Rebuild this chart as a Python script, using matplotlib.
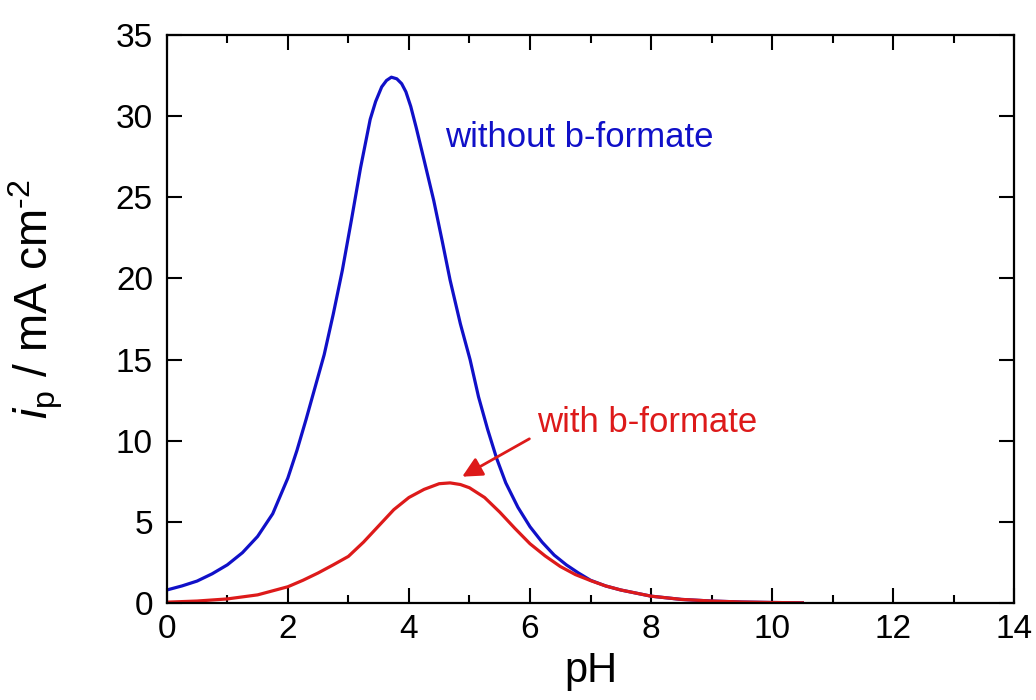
import matplotlib
matplotlib.use("Agg")
import matplotlib.pyplot as plt
from matplotlib.ticker import MultipleLocator

plt.rcParams['font.family'] = ['Liberation Sans', 'DejaVu Sans']
plt.rcParams['mathtext.fontset'] = 'custom'
plt.rcParams['mathtext.rm'] = 'Liberation Sans'
plt.rcParams['mathtext.it'] = 'Liberation Sans:italic'

ph_blue = [0.0, 0.25, 0.5, 0.75, 1.0, 1.25, 1.5, 1.75, 2.0, 2.15, 2.3, 2.45, 2.6,
           2.75, 2.9, 3.05, 3.2, 3.36, 3.45, 3.55, 3.63, 3.71, 3.8, 3.88, 3.95, 4.03, 4.12,
           4.25, 4.41, 4.55, 4.68, 4.85, 5.01, 5.15, 5.3, 5.45, 5.6, 5.8, 6.0,
           6.2, 6.4, 6.6, 6.8, 7.0, 7.25, 7.5, 8.0, 8.5, 9.0, 9.5, 10.0, 10.5]
ip_blue = [0.8, 1.05, 1.35, 1.8, 2.35, 3.1, 4.1, 5.5, 7.7, 9.4, 11.3, 13.3, 15.3,
           17.8, 20.5, 23.6, 26.8, 29.8, 30.9, 31.8, 32.2, 32.4, 32.3, 32.0, 31.5, 30.6, 29.3,
           27.3, 24.8, 22.3, 19.9, 17.2, 15.0, 12.7, 10.7, 8.9, 7.4, 5.9, 4.7,
           3.75, 2.95, 2.35, 1.85, 1.4, 1.05, 0.8, 0.42, 0.22, 0.12, 0.06, 0.03, 0.01]

ph_red = [0.0, 0.5, 1.0, 1.5, 2.0, 2.25, 2.5, 2.75, 3.0, 3.25, 3.5, 3.75, 4.0,
          4.25, 4.5, 4.68, 4.85, 5.0, 5.25, 5.5, 5.75, 6.0, 6.25, 6.5, 6.75,
          7.0, 7.25, 7.5, 8.0, 8.5, 9.0, 9.5, 10.0, 10.5]
ip_red = [0.05, 0.12, 0.25, 0.5, 1.0, 1.4, 1.85, 2.35, 2.87, 3.75, 4.75, 5.75, 6.5,
          7.0, 7.35, 7.4, 7.3, 7.1, 6.5, 5.6, 4.6, 3.65, 2.9, 2.25, 1.75,
          1.38, 1.05, 0.8, 0.42, 0.22, 0.12, 0.06, 0.03, 0.01]

blue = '#1010c8'
red = '#dd1a1a'

fig = plt.figure(figsize=(10.36, 7.0), dpi=100)
ax = fig.add_axes([0.161, 0.1386, 0.818, 0.8114])

ax.plot(ph_blue, ip_blue, color=blue, lw=2.3, solid_joinstyle='round')
ax.plot(ph_red, ip_red, color=red, lw=2.3, solid_joinstyle='round')

ax.set_xlim(0, 14)
ax.set_ylim(0, 35)
ax.xaxis.set_major_locator(MultipleLocator(2))
ax.xaxis.set_minor_locator(MultipleLocator(1))
ax.yaxis.set_major_locator(MultipleLocator(5))
ax.tick_params(which='both', direction='in', top=True, right=True,
               labelsize=24, width=1.5)
ax.tick_params(axis='x', which='major', length=11, pad=8)
ax.tick_params(axis='x', which='minor', length=6)
ax.tick_params(axis='y', which='major', length=11, pad=10)
for s in ax.spines.values():
    s.set_linewidth(1.6)

ax.set_xlabel('pH', fontsize=30, labelpad=4)
ax.set_ylabel(r'$\it{i}_{\rm p}$ / mA cm$^{\text{-2}}$', fontsize=33)
ax.yaxis.set_label_coords(-0.12, 0.535)

ax.text(4.6, 28.7, 'without b-formate', color=blue, fontsize=25, va='center')
ax.text(6.12, 11.1, 'with b-formate', color=red, fontsize=25, va='center')
ax.annotate('', xy=(4.84, 7.7), xytext=(6.03, 10.2),
            arrowprops=dict(arrowstyle='-|>', color=red, lw=2,
                            mutation_scale=30))

fig.savefig('out.png', dpi=100)
